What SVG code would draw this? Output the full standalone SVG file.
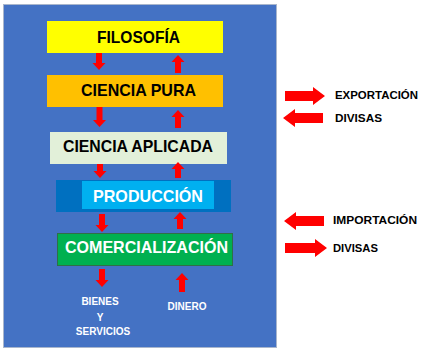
<svg xmlns="http://www.w3.org/2000/svg" width="425" height="351" viewBox="0 0 425 351">
<defs>
<style>
.t{font-family:"Liberation Sans",Arial,sans-serif;font-weight:bold;text-anchor:middle}
.big{font-size:17px}
.sm{font-size:10px;fill:#fff}
.rt{font-family:"Liberation Sans",Arial,sans-serif;font-weight:bold;font-size:11.5px;fill:#000}
.ar{fill:#ff0000}
</style>
<path id="dn" d="M-3,0 H3 V-7 H6.5 L0,0 Z"/>
</defs>
<rect x="0" y="0" width="425" height="351" fill="#fff"/>
<rect id="bg" x="3.5" y="4.5" width="273" height="343" fill="#4472c4" stroke="#a9b6cc" stroke-width="1"/>

<g id="filosofia">
<rect x="47" y="21" width="176" height="32" fill="#ffff00"/>
<text class="t big" x="138.5" y="43" textLength="83" lengthAdjust="spacingAndGlyphs">FILOSOFÍA</text>
</g>
<g id="ciencia-pura">
<rect x="47" y="75" width="176" height="32" fill="#ffc000"/>
<text class="t big" x="138.5" y="96" textLength="115" lengthAdjust="spacingAndGlyphs">CIENCIA PURA</text>
</g>
<g id="ciencia-aplicada">
<rect x="50" y="132" width="177" height="32" fill="#e2f0d9"/>
<text class="t big" x="138" y="152" textLength="150" lengthAdjust="spacingAndGlyphs">CIENCIA APLICADA</text>
</g>
<g id="produccion">
<rect x="56" y="180" width="175" height="32" fill="#0070c0"/>
<rect x="82" y="181" width="132" height="28" fill="#00b0f0"/>
<text class="t big" x="148" y="202" fill="#fff" textLength="110" lengthAdjust="spacingAndGlyphs">PRODUCCIÓN</text>
</g>
<g id="comercializacion">
<rect x="57.5" y="233.5" width="175" height="32" fill="#00b050" stroke="#2f6f47" stroke-width="1"/>
<text class="t big" x="146.5" y="253" fill="#fff" textLength="163" lengthAdjust="spacingAndGlyphs">COMERCIALIZACIÓN</text>
</g>
<g id="bienes">
<text class="t sm" x="100" y="305">BIENES</text>
<text class="t sm" x="100" y="321">Y</text>
<text class="t sm" x="103" y="335">SERVICIOS</text>
</g>
<g id="dinero">
<text class="t sm" x="187" y="310">DINERO</text>
</g>
<g id="exportacion">
<text class="rt" x="335" y="99" textLength="83" lengthAdjust="spacingAndGlyphs">EXPORTACIÓN</text>
</g>
<g id="divisas1">
<text class="rt" x="335" y="122" textLength="47" lengthAdjust="spacingAndGlyphs">DIVISAS</text>
</g>
<g id="importacion">
<text class="rt" x="333" y="224" textLength="84" lengthAdjust="spacingAndGlyphs">IMPORTACIÓN</text>
</g>
<g id="divisas2">
<text class="rt" x="333" y="252" textLength="45" lengthAdjust="spacingAndGlyphs">DIVISAS</text>
</g>

<g id="connectors" class="ar">
<!-- down arrows -->
<path d="M96,53 H102 V63 H105.5 L99,70 L92.5,63 H96 Z"/>
<path d="M96.5,107 H102.5 V120 H106 L99.5,127 L93,120 H96.5 Z"/>
<path d="M97,164 H103 V171 H106.5 L100,178 L93.5,171 H97 Z"/>
<path d="M99,214 H105 V225 H108.5 L102,232 L95.5,225 H99 Z"/>
<path d="M99,269 H105 V280 H108.5 L102,287 L95.5,280 H99 Z"/>
<!-- up arrows -->
<path d="M175,73 H181 V62 H184.5 L178,55 L171.5,62 H175 Z"/>
<path d="M175,128 H181 V117 H184.5 L178,110 L171.5,117 H175 Z"/>
<path d="M175,178 H181 V169 H184.5 L178,162 L171.5,169 H175 Z"/>
<path d="M177,229 H183 V219 H186.5 L180,212 L173.5,219 H177 Z"/>
<path d="M179,292 H185 V280 H188.5 L182,273 L175.5,280 H179 Z"/>
<!-- horizontal arrows -->
<path d="M285,91 H313 V87 L325,96 L313,105 V101 H285 Z"/>
<path d="M323,113 H295 V109 L283,118 L295,127 V123 H323 Z"/>
<path d="M324,216 H296 V212 L284,221 L296,230 V226 H324 Z"/>
<path d="M285,243 H315 V239 L327,248 L315,257 V253 H285 Z"/>
</g>
</svg>
